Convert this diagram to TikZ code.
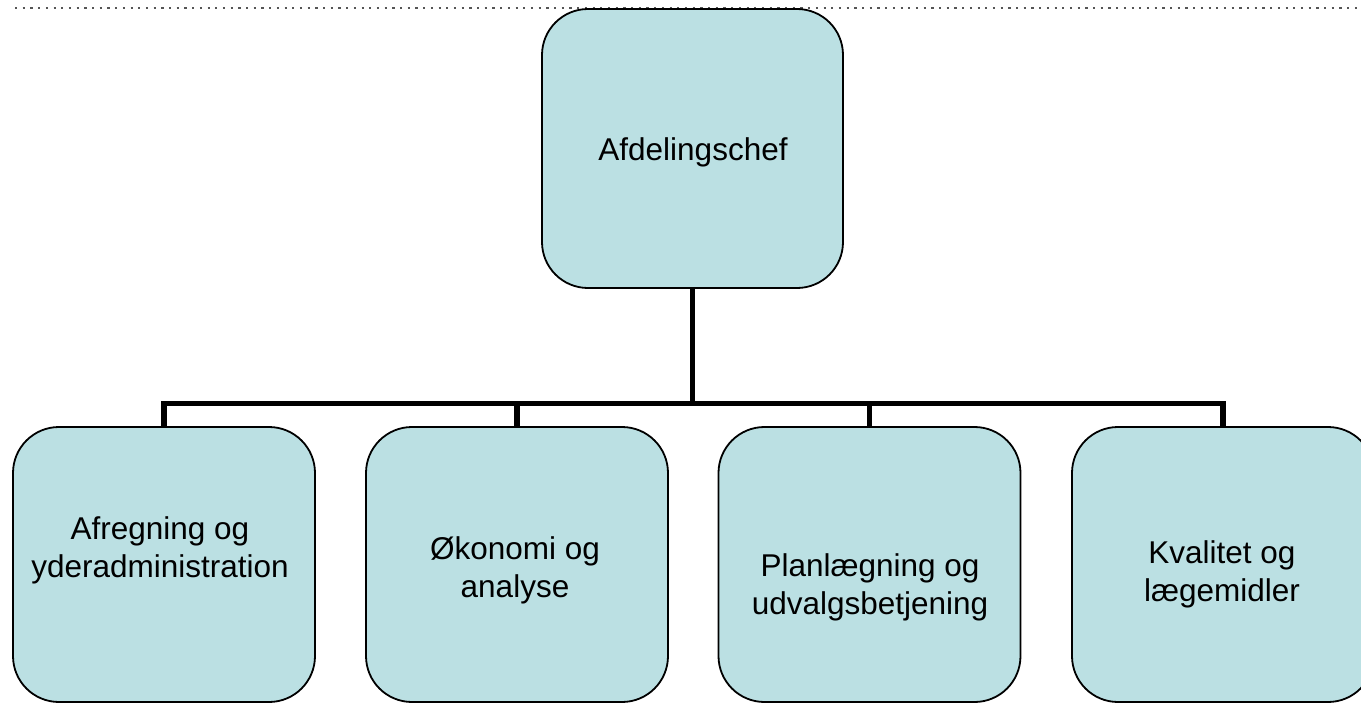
\documentclass[tikz,border=0pt]{standalone}
\usepackage{fontspec}
\setmainfont{Liberation Sans}
\definecolor{boxfill}{HTML}{BBE0E3}
\definecolor{dotgray}{HTML}{555555}
\begin{document}
\begin{tikzpicture}[x=1pt,y=-1pt,
  orgbox/.style={draw=black, line width=1.8pt, fill=boxfill, rounded corners=46pt,
    minimum width=302pt, minimum height=275pt, inner sep=0pt},
  topbox/.style={orgbox, minimum width=301pt, minimum height=279pt},
  lbl/.style={align=center, inner sep=0pt, font=\fontsize{31.5}{38}\selectfont},
  conn/.style={draw=black, line width=5.8pt, line join=miter},
  dotline/.style={draw=dotgray, line width=2.2pt, dash pattern=on 2.2pt off 5.5pt}]
\useasboundingbox (0,0) rectangle (1361,704);
\clip (0,0) rectangle (1361,704);
% dotted guide line
\coordinate (dl) at (15,8);
\coordinate (dr) at (1361,8);
\draw[dotline] (dl) -- (dr);
% boxes
\node[topbox] (top) at (692.5,148.5) {};
\node[orgbox] (b1) at (164,564.5) {};
\node[orgbox] (b2) at (517,564.5) {};
\node[orgbox] (b3) at (869.5,564.5) {};
\node[orgbox] (b4) at (1223,564.5) {};
% labels
\node[lbl] (t0) at (693,152.4) {\strut Afdelingschef};
\node[lbl] (t1) at (160,550.4) {\strut Afregning og\\\strut yderadministration};
\node[lbl] (t2) at (515,570.4) {\strut Økonomi og\\\strut analyse};
\node[lbl] (t3) at (870,587.4) {\strut Planlægning og\\\strut udvalgsbetjening};
\node[lbl] (t4) at (1222,574.4) {\strut Kvalitet og\\\strut lægemidler};
% connectors
\coordinate (bus) at (top.south |- 0,403.5);
\draw[conn] (top.south) -- (bus);
\draw[conn] (bus) -| (b1.north);
\draw[conn] (bus) -| (b2.north);
\draw[conn] (bus) -| (b3.north);
\draw[conn] (bus) -| (b4.north);
\end{tikzpicture}
\end{document}
